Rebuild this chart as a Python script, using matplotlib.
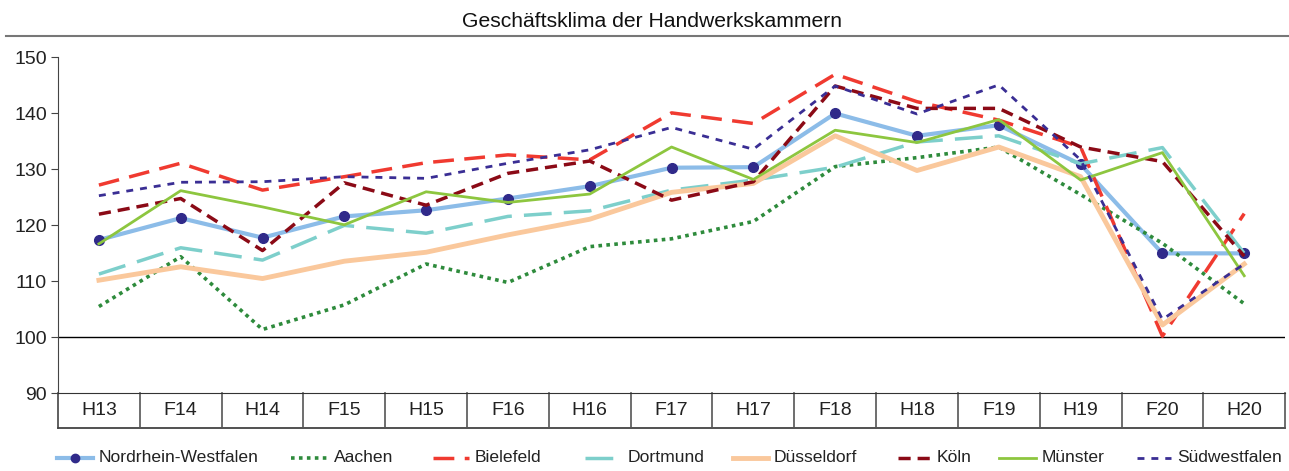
import matplotlib
matplotlib.use("Agg")

import matplotlib.pyplot as plt
from matplotlib.lines import Line2D

plt.rcParams["font.family"] = ["Liberation Sans", "DejaVu Sans"]

# ---------------------------
# Data
# ---------------------------
categories = ["H13", "F14", "H14", "F15", "H15", "F16", "H16", "F17",
              "H17", "F18", "H18", "F19", "H19", "F20", "H20"]

nrw = [117.4, 121.3, 117.8, 121.6, 122.7, 124.8, 127.0, 130.3, 130.4, 140.0,
       136.0, 137.9, 130.9, 115.0, 115.0]
aachen = [105.5, 114.4, 101.4, 105.8, 113.1, 109.8, 116.2, 117.6, 120.7, 130.5,
          132.1, 134.0, 125.5, 116.8, 106.0]
bielefeld = [127.2, 131.1, 126.3, 128.7, 131.2, 132.6, 131.7, 140.1, 138.2, 147.0,
             142.1, 138.8, 134.0, 100.2, 122.1]
dortmund = [111.3, 116.0, 113.8, 120.0, 118.6, 121.6, 122.6, 126.3, 128.1, 130.4,
            134.9, 136.0, 131.0, 133.9, 115.0]
duesseldorf = [110.2, 112.6, 110.5, 113.6, 115.2, 118.3, 121.1, 125.9, 127.5, 136.0,
               129.8, 134.0, 128.7, 102.2, 113.1]
koeln = [122.0, 124.8, 115.5, 127.6, 123.6, 129.3, 131.5, 124.5, 127.8, 144.9,
         140.9, 140.9, 134.0, 131.4, 114.5]
muenster = [116.7, 126.2, 123.3, 120.1, 126.0, 124.1, 125.6, 134.0, 128.2, 137.0,
            134.8, 138.9, 128.1, 133.0, 111.0]
suedwestfalen = [125.3, 127.7, 127.8, 128.7, 128.4, 131.1, 133.5, 137.5, 133.6, 144.9,
                 139.9, 145.1, 131.7, 103.2, 113.1]

labels = ["Nordrhein-Westfalen", "Aachen", "Bielefeld", "Dortmund",
          "Düsseldorf", "Köln", "Münster", "Südwestfalen"]
series = [nrw, aachen, bielefeld, dortmund, duesseldorf, koeln, muenster, suedwestfalen]

yticks = [90, 100, 110, 120, 130, 140, 150]

# line styles per series
STYLES = [
    dict(color="#8CBCE8", lw=3, ls="-"),
    dict(color="#2E8B3C", lw=2.6, ls=(0, (1, 1.2))),
    dict(color="#F03A30", lw=2.5, ls=(0, (6, 3))),
    dict(color="#7DCFCB", lw=2.5, ls=(0, (8, 3.5))),
    dict(color="#FAC89C", lw=3.5, ls="-"),
    dict(color="#8B0A16", lw=2.5, ls=(0, (3.5, 2))),
    dict(color="#8DC63F", lw=2, ls="-"),
    dict(color="#3A2E94", lw=2, ls=(0, (2.5, 2.5))),
]
MARK = "#302A8A"

# legend layout (handle start / end in figure pixels, like the Excel legend)
W, H = 1289, 471
LEG_X = [(57, 93), (291, 328), (433, 469), (585, 622),
         (733, 768), (898, 931), (999, 1036), (1137, 1171)]
LEG_Y = 458


def main():
    fig = plt.figure(figsize=(12.89, 4.71), dpi=100)
    ax = fig.add_axes([0.045, 0.165, 0.952, 0.713])
    x = list(range(len(categories)))

    for i, (vals, lab, st) in enumerate(zip(series, labels, STYLES)):
        if i == 0:
            ax.plot(x, vals, marker="o", ms=7, mfc=MARK, mec=MARK, label=lab, **st)
        else:
            ax.plot(x, vals, label=lab, **st)

    ax.axhline(100, color="black", lw=1, zorder=1)

    ax.set_xlim(-0.5, len(categories) - 0.5)
    ax.set_ylim(90, 150)
    ax.set_yticks(yticks)
    ax.tick_params(axis="y", labelsize=14, length=5, color="#444444", pad=3)
    ax.set_xticks([])

    for s in ("top", "right"):
        ax.spines[s].set_visible(False)
    ax.spines["left"].set_color("#444444")
    ax.spines["bottom"].set_color("#333333")

    # category table below the plot
    tb = -0.103
    xt = ax.get_xaxis_transform()
    ax.plot([-0.5, len(categories) - 0.5], [tb, tb], transform=xt,
            color="#333333", lw=1.2, clip_on=False)
    ax.plot([-0.5, -0.5], [0, tb], transform=xt, color="#444444", lw=1.2, clip_on=False)
    for i in range(len(categories)):
        ax.plot([i + 0.5, i + 0.5], [0, tb], transform=xt,
                color="#555555", lw=1.2, clip_on=False)
        ax.text(i, tb / 2, categories[i], transform=xt, ha="center", va="center",
                fontsize=14, color="#222222")

    # title and rule under it
    fig.text(0.506, 0.955, "Geschäftsklima der Handwerkskammern", ha="center",
             va="center", fontsize=15.2, color="#111111")
    fig.add_artist(Line2D([0.005, 0.999], [0.923, 0.923], color="#777777", lw=1.5))

    for t in ax.get_yticklabels():
        t.set_color("#222222")

    # legend drawn by hand to match the spacing of the original
    ly = 1 - LEG_Y / H
    for i, (lab, st, (x0, x1)) in enumerate(zip(labels, STYLES, LEG_X)):
        fig.add_artist(Line2D([x0 / W, x1 / W], [ly, ly], **st))
        if i == 0:
            fig.add_artist(Line2D([(x0 + x1) / 2 / W], [ly], marker="o", ms=6,
                                  mfc=MARK, mec=MARK, ls="none"))
        fig.text((x1 + 6) / W, ly, lab, ha="left", va="center",
                 fontsize=12.6, color="#222222")

    fig.savefig("out.png", dpi=100)
    plt.close(fig)


if __name__ == "__main__":
    main()
